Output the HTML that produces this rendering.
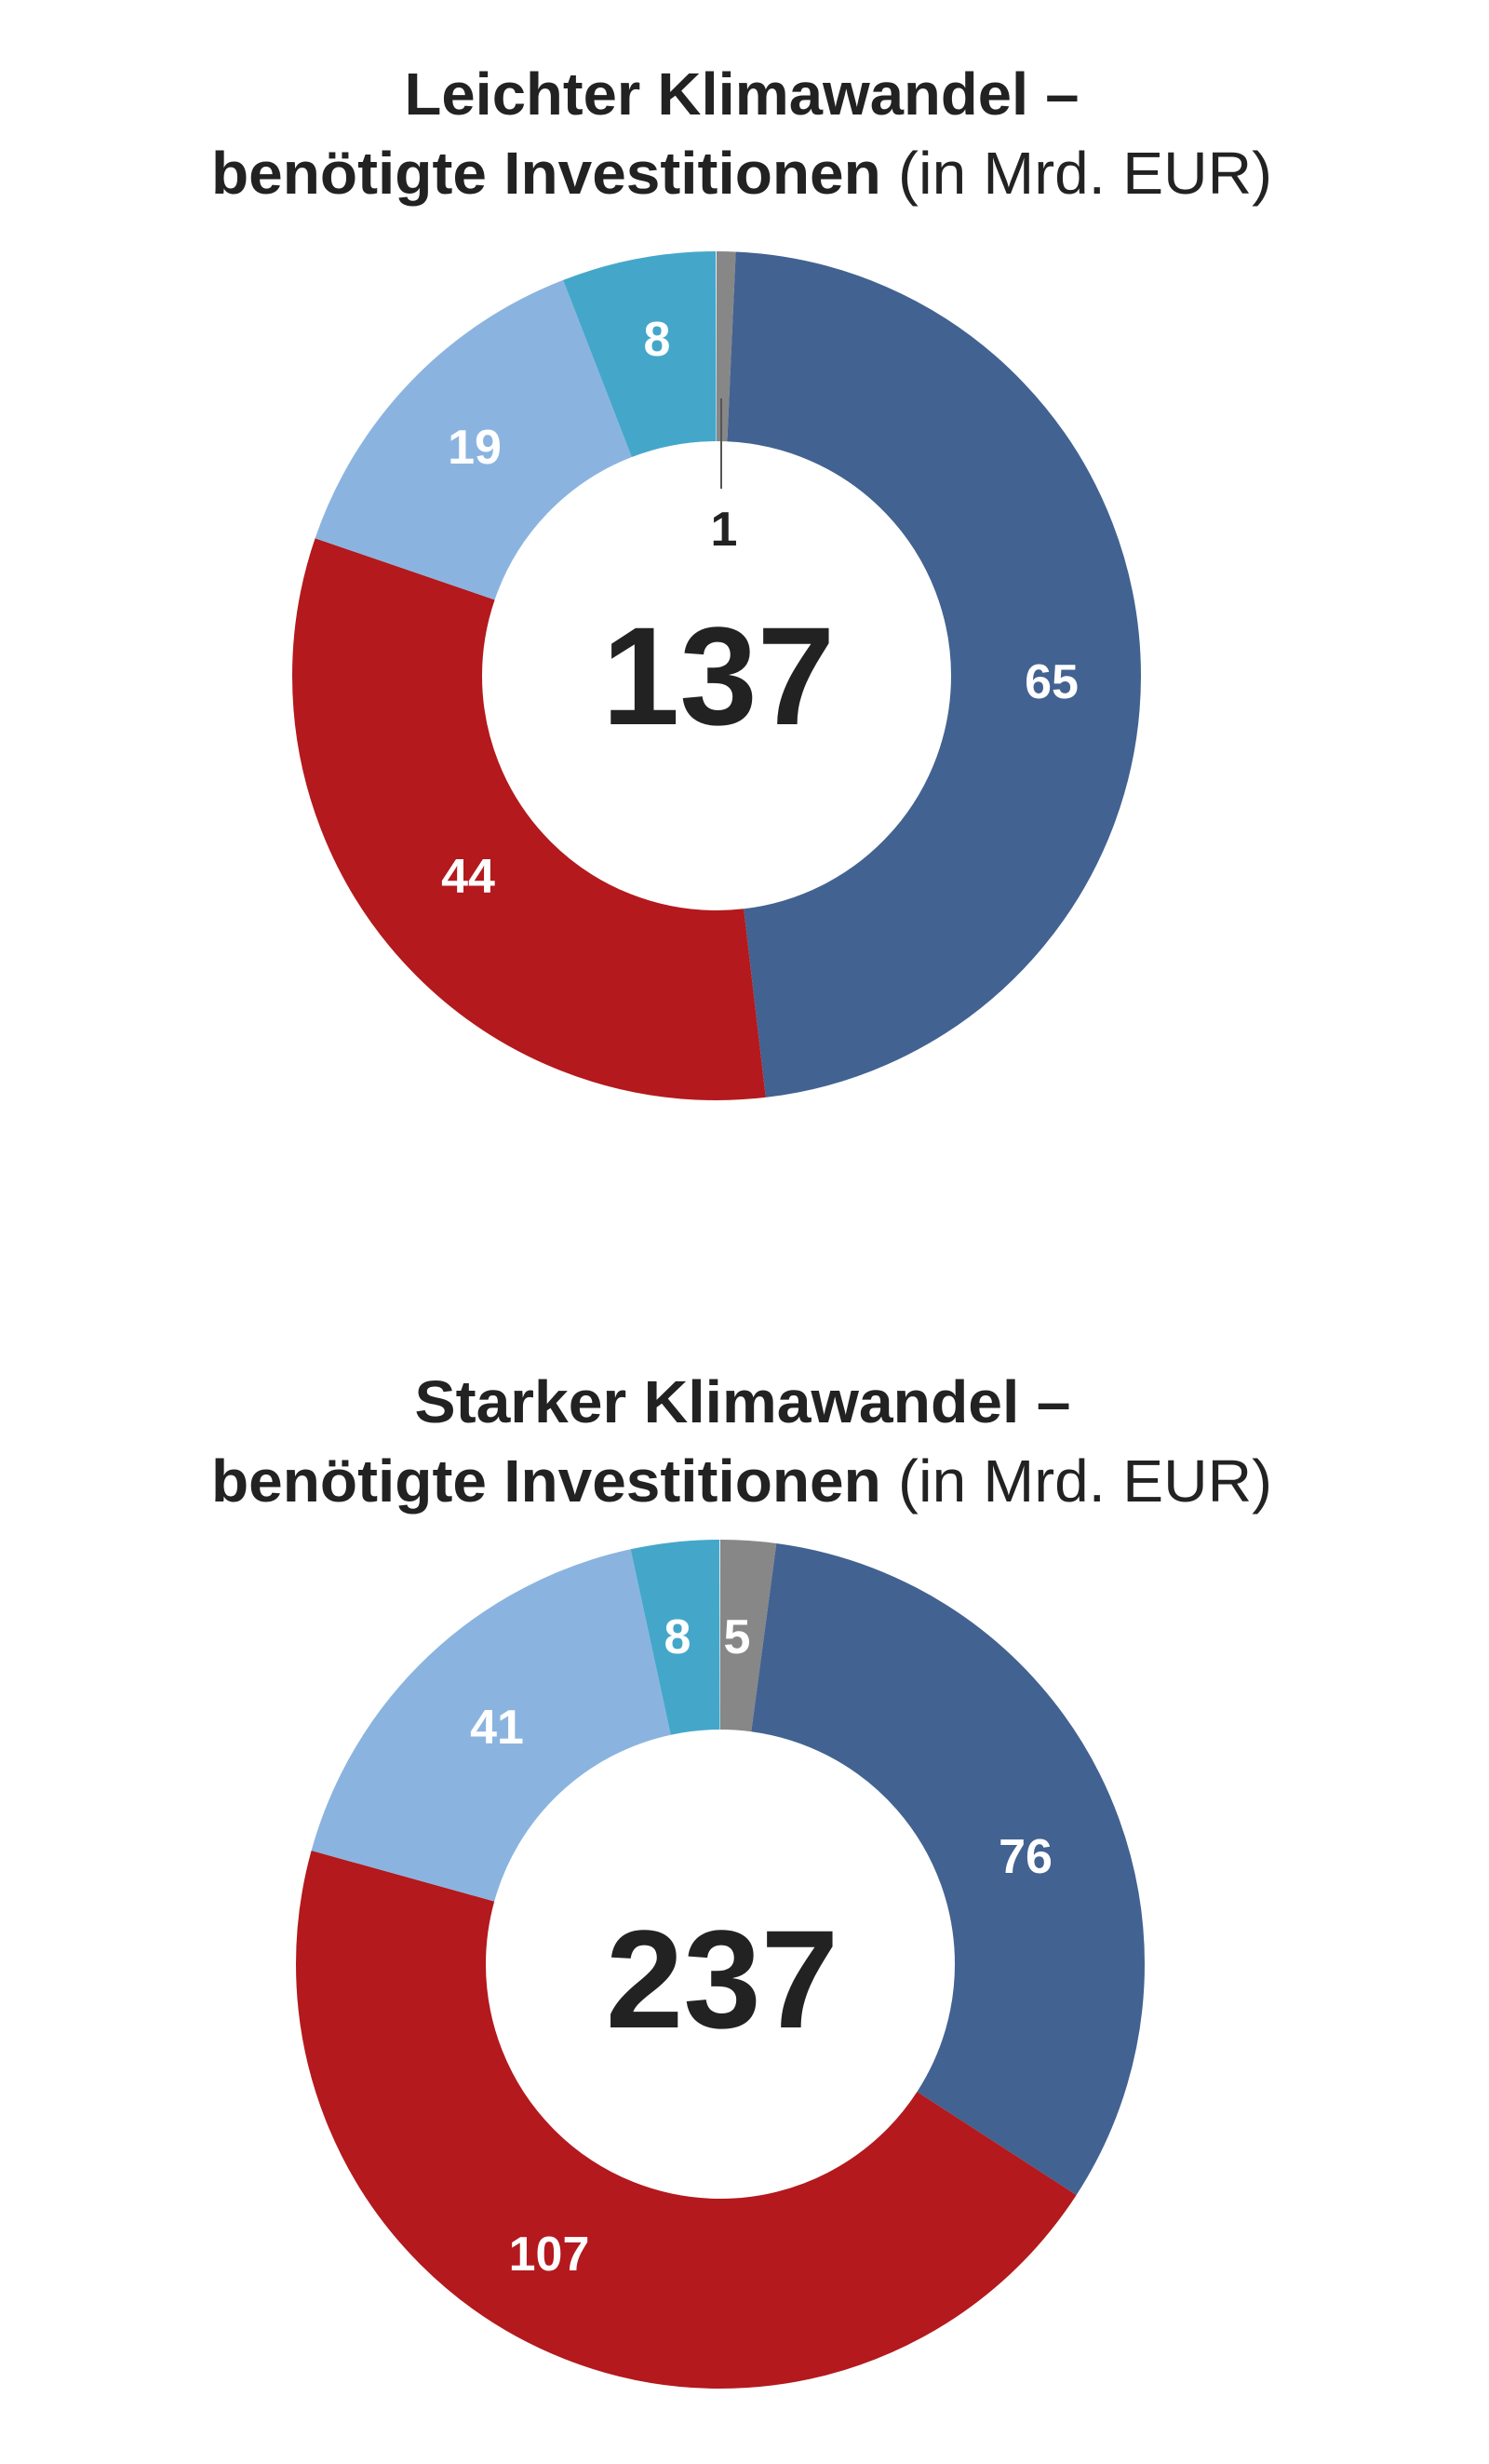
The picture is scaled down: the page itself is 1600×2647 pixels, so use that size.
<!DOCTYPE html>
<html><head><meta charset="utf-8"><style>
html,body{margin:0;padding:0;background:#fff;}
svg{display:block;}
text{font-family:"Liberation Sans Narrow","Liberation Sans",sans-serif;}
</style></head><body>
<svg width="1600" height="2647" viewBox="0 0 1600 2647" xmlns="http://www.w3.org/2000/svg">
<g font-weight="bold" fill="#222" text-anchor="middle">
<text x="797" y="123" font-size="64" textLength="725" lengthAdjust="spacingAndGlyphs">Leichter Klimawandel –</text>
<text x="797" y="208" font-size="64" textLength="1140" lengthAdjust="spacingAndGlyphs">benötigte Investitionen <tspan font-weight="normal">(in Mrd. EUR)</tspan></text>
<text x="798" y="1528" font-size="64" textLength="705" lengthAdjust="spacingAndGlyphs">Starker Klimawandel –</text>
<text x="797" y="1613" font-size="64" textLength="1140" lengthAdjust="spacingAndGlyphs">benötigte Investitionen <tspan font-weight="normal">(in Mrd. EUR)</tspan></text>
</g>
<g transform="rotate(-90 770 726)" fill="none" stroke-width="204">
<circle cx="770" cy="726" r="354" pathLength="360" stroke="#878787" stroke-dasharray="2.6 400" stroke-dashoffset="0"/>
<circle cx="770" cy="726" r="354" pathLength="360" stroke="#426291" stroke-dasharray="170.8 400" stroke-dashoffset="-2.6"/>
<circle cx="770" cy="726" r="354" pathLength="360" stroke="#b3191d" stroke-dasharray="115.6 400" stroke-dashoffset="-173.4"/>
<circle cx="770" cy="726" r="354" pathLength="360" stroke="#8ab4df" stroke-dasharray="49.9 400" stroke-dashoffset="-289"/>
<circle cx="770" cy="726" r="354" pathLength="360" stroke="#44a7c9" stroke-dasharray="21.1 400" stroke-dashoffset="-338.9"/>
</g>
<line x1="775" y1="428" x2="775" y2="525" stroke="#555" stroke-width="2"/>
<g transform="rotate(-90 774 2110)" fill="none" stroke-width="204">
<circle cx="774" cy="2110" r="354" pathLength="360" stroke="#878787" stroke-dasharray="7.6 400" stroke-dashoffset="0"/>
<circle cx="774" cy="2110" r="354" pathLength="360" stroke="#426291" stroke-dasharray="115.4 400" stroke-dashoffset="-7.6"/>
<circle cx="774" cy="2110" r="354" pathLength="360" stroke="#b3191d" stroke-dasharray="162.6 400" stroke-dashoffset="-123"/>
<circle cx="774" cy="2110" r="354" pathLength="360" stroke="#8ab4df" stroke-dasharray="62.3 400" stroke-dashoffset="-285.6"/>
<circle cx="774" cy="2110" r="354" pathLength="360" stroke="#44a7c9" stroke-dasharray="12.1 400" stroke-dashoffset="-347.9"/>
</g>
<g font-weight="bold" text-anchor="middle" font-size="52" fill="#fff">
<text x="706" y="382">8</text>
<text x="510" y="498">19</text>
<text x="778" y="586" fill="#222">1</text>
<text x="1130" y="750">65</text>
<text x="503" y="959">44</text>
<text x="728" y="1776">8</text>
<text x="792" y="1776">5</text>
<text x="534" y="1873">41</text>
<text x="1102" y="2012">76</text>
<text x="590" y="2439">107</text>
</g>
<g font-weight="bold" text-anchor="middle" font-size="150" fill="#222">
<text x="772" y="778">137</text>
<text x="776" y="2178">237</text>
</g>
</svg>
</body></html>
